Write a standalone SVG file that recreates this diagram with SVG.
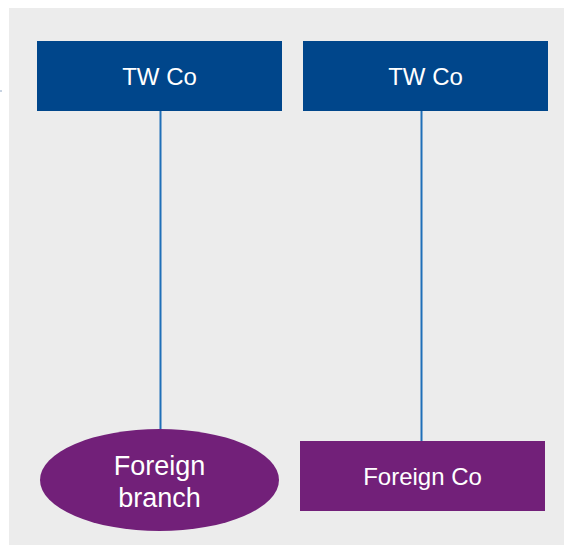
<svg xmlns="http://www.w3.org/2000/svg" width="564" height="545" viewBox="0 0 564 545">
  <style>
    .parent { fill: #00468b; }
    .child { fill: #722079; }
    .label { fill: #ffffff; font-family: "Liberation Sans", Arial, sans-serif; text-anchor: middle; }
    .link { stroke: #1f6fb8; stroke-width: 2; fill: none; }
  </style>
  <rect x="0" y="0" width="564" height="545" fill="#ffffff"/>
  <!-- panel -->
  <rect x="9" y="8" width="555" height="537" fill="#ececec"/>
  <!-- margin tick -->
  <line x1="0" y1="91" x2="2" y2="91" stroke="#8fa6c4" stroke-width="1"/>

  <g id="connectors">
    <line class="link" x1="160.5" y1="110" x2="160.5" y2="430"/>
    <line class="link" x1="421.5" y1="110" x2="421.5" y2="442"/>
  </g>

  <g id="tw-co-left">
    <rect class="parent" x="37" y="41" width="245" height="70"/>
    <text class="label" x="159.5" y="85" font-size="24">TW Co</text>
  </g>

  <g id="tw-co-right">
    <rect class="parent" x="303" y="41" width="245" height="70"/>
    <text class="label" x="425.5" y="85" font-size="24">TW Co</text>
  </g>

  <g id="foreign-branch">
    <ellipse class="child" cx="159.5" cy="480" rx="119.5" ry="51"/>
    <text class="label" x="159.5" y="475" font-size="27">Foreign</text>
    <text class="label" x="159.5" y="507" font-size="27">branch</text>
  </g>

  <g id="foreign-co">
    <rect class="child" x="300" y="441" width="245" height="70"/>
    <text class="label" x="422.5" y="484.5" font-size="24">Foreign Co</text>
  </g>
</svg>
